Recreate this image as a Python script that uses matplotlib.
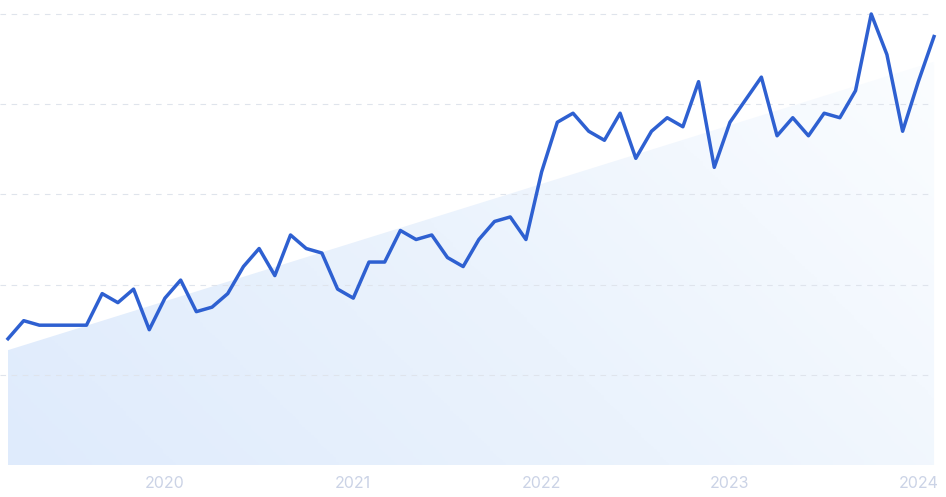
import numpy as np
import matplotlib
matplotlib.use('Agg')
import matplotlib.pyplot as plt
from matplotlib.colors import LinearSegmentedColormap
from matplotlib.patches import PathPatch

# monthly values, Mar 2019 .. Feb 2024
values = [28, 32, 31, 31, 31, 31, 38, 36, 39, 30,
          37, 41, 34, 35, 38, 44, 48, 42, 51, 48,
          47, 39, 37, 45, 45, 52, 50, 51, 46, 44,
          50, 54, 55, 50, 65, 76, 78, 74, 72, 78,
          68, 74, 77, 75, 85, 66, 76, 81, 86, 73,
          77, 73, 78, 77, 83, 100, 91, 74, 85, 95]
year_labels = ['2020', '2021', '2022', '2023', '2024']
year_idx = [10, 22, 34, 46, 58]

x = np.arange(len(values))
y = np.array(values, dtype=float)

fig = plt.figure(figsize=(9.46, 4.97), dpi=100)
ax = fig.add_axes([0, 32 / 497, 1, 465 / 497])

ax.set_xlim(-8 / 15.695, (946 - 8) / 15.695)
ax.set_ylim(0, 465 / 4.51)

# trend area with a diagonal gradient
slope, icpt = np.polyfit(x, y, 1)
trend = slope * x + icpt
poly = ax.fill_between(x, 0, trend, color='none', lw=0)
cmap = LinearSegmentedColormap.from_list('g', ['#dfebfc', '#ebf3fd', '#fbfdff'])
gx, gy = np.meshgrid(np.linspace(0, 1, 300), np.linspace(0, 1, 150))
grad = 0.7 * gx + 0.3 * (1 - gy)
img = ax.imshow(grad, cmap=cmap, aspect='auto', origin='upper',
                extent=[x[0], x[-1], 0, trend.max()], zorder=1)
clip = PathPatch(poly.get_paths()[0], transform=ax.transData,
                 facecolor='none', edgecolor='none')
ax.add_patch(clip)
img.set_clip_path(clip)

ax.plot(x, y, color='#2e60d1', lw=2.5, zorder=3)

for g in [20, 40, 60, 80, 100]:
    ax.axhline(g, xmax=932 / 946, color='#dfe4ec', lw=0.8, dashes=(5, 5), zorder=2)

ax.set_xticks(year_idx)
ax.set_xticklabels(year_labels, fontsize=11.5, color='#cbd3e6', family='Inter')
ax.tick_params(axis='x', length=0, pad=8)
ax.set_yticks([])
for s in ax.spines.values():
    s.set_visible(False)

fig.savefig('out.png', dpi=100)
